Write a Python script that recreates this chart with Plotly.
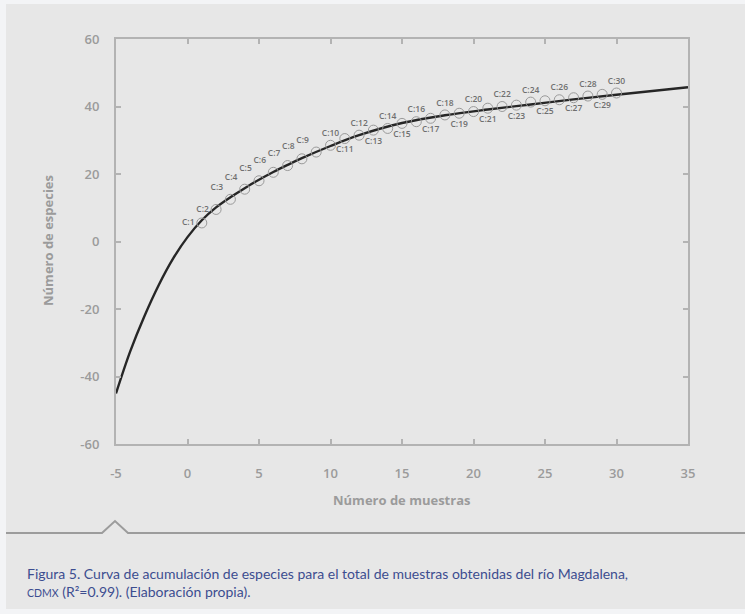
import plotly.graph_objects as go

# Observed cumulative species per sample
muestras = list(range(1, 31))
especies = [5.5, 9.5, 12.5, 15.5, 18, 20.5, 22.5, 24.5, 26.5, 28.5,
            30.5, 31.5, 33, 33.5, 35, 35.5, 36.5, 37.5, 38, 38.5,
            39.5, 40, 40.4, 41.3, 41.7, 42, 42.6, 43.1, 43.6, 44]
etiquetas = [f"C:{i}" for i in muestras]

# Fitted accumulation curve (values along the trend line)
curva_x = [-5, -4, -3, -2, -1, 0, 1, 2, 3, 4, 5, 6, 7, 8,
           10, 12, 15, 18, 21, 24, 27, 30, 35]
curva_y = [-45.0, -32.5, -22.0, -12.8, -5.0, 1.3, 6.3, 10.1, 13.1, 15.8,
           18.3, 20.6, 22.7, 24.7, 28.3, 31.5, 35.1, 37.4, 39.1, 40.6,
           42.1, 43.5, 45.7]

x_ticks = [-5, 0, 5, 10, 15, 20, 25, 30, 35]
x_tick_text = ["-5", "0", "5", "10", "15", "20", "25", "30", "35"]
y_ticks = [-60, -40, -20, 0, 20, 40, 60]
y_tick_text = ["-60", "-40", "-20", "0", "20", "40", "60"]

# label placement around each marker
posiciones = []
for i in muestras:
    if i <= 2:
        posiciones.append("middle left")
    elif i <= 9:
        posiciones.append("top left")
    elif i % 2 == 0:
        posiciones.append("top center")
    else:
        posiciones.append("bottom center")

W, H = 745, 614
L, R, T, B = 116, 688, 39, 444
BG = "#e7e7e7"
AX = "#b3b3b3"
LAB = "#9b9b9b"


def px(x):
    return (x - L) / (R - L)


def py(y):
    return (B - y) / (B - T)


fig = go.Figure()
fig.add_trace(go.Scatter(
    x=curva_x, y=curva_y, mode="lines", line_shape="spline",
    line=dict(color="#262626", width=2.4), hoverinfo="skip", showlegend=False,
))
fig.add_trace(go.Scatter(
    x=muestras, y=especies, mode="markers+text", text=etiquetas,
    textposition=posiciones,
    textfont=dict(family="Open Sans", size=8.5, color="#6f6f6f", weight=600),
    marker=dict(symbol="circle-open", size=10, color="#9a9a9a", line=dict(width=1)),
    showlegend=False,
))

axis_common = dict(
    showline=True, linecolor=AX, linewidth=2, mirror="ticks",
    ticks="inside", ticklen=5, tickwidth=1.5, tickcolor=AX,
    showgrid=False, zeroline=False,
    tickfont=dict(family="Open Sans", size=13, color=LAB, weight=600),
)
fig.update_xaxes(range=[-5, 35], tickvals=x_ticks, ticktext=x_tick_text,
                 ticklabelstandoff=16, **axis_common)
fig.update_yaxes(range=[-60, 60], tickvals=y_ticks, ticktext=y_tick_text,
                 ticklabelstandoff=12, **axis_common)

shapes = [
    # panel background with thin lighter border at top/left/bottom
    dict(type="rect", xref="paper", yref="paper", layer="below",
         x0=px(6), x1=px(W + 2), y0=py(609), y1=py(4),
         fillcolor=BG, line=dict(width=0)),
    # divider line with small notch
    dict(type="path", xref="paper", yref="paper",
         path=(f"M {px(6)} {py(533)} L {px(102)} {py(533)} L {px(115)} {py(521)} "
               f"L {px(128)} {py(533)} L {px(W + 2)} {py(533)}"),
         line=dict(color="#9c9c9c", width=2)),
]

annotations = [
    dict(text="<b>Número de especies</b>", xref="paper", yref="paper",
         x=px(48), y=py(241), xanchor="center", yanchor="middle",
         textangle=-90, showarrow=False,
         font=dict(family="Open Sans", size=13, color=LAB)),
    dict(text="<b>Número de muestras</b>", xref="paper", yref="paper",
         x=px(401), y=py(500), xanchor="center", yanchor="middle", showarrow=False,
         font=dict(family="Open Sans", size=13, color=LAB)),
    dict(text=("Figura 5. Curva de acumulación de especies para el total de muestras "
               "obtenidas del río Magdalena,<br><span style='font-size:10.5px'>CDMX</span> "
               "(R²=0.99). (Elaboración propia)."),
         xref="paper", yref="paper", x=px(25), y=py(563),
         xanchor="left", yanchor="top", align="left", showarrow=False,
         font=dict(family="Lato", size=14, color="#3c4d90")),
]

fig.update_layout(
    width=W, height=H,
    margin=dict(l=L, r=W - R, t=T, b=H - B),
    paper_bgcolor="#f3f4f6", plot_bgcolor=BG,
    shapes=shapes, annotations=annotations,
)

fig.write_html("out.html")
